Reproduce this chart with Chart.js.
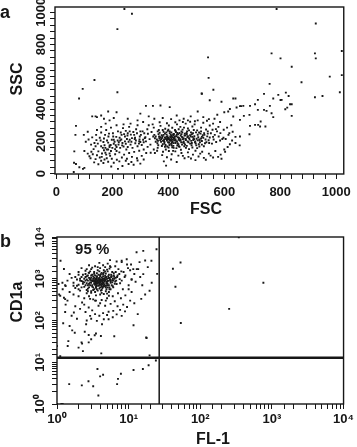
<!DOCTYPE html>
<html>
<head>
<meta charset="utf-8">
<script src="https://cdn.jsdelivr.net/npm/chart.js@4.4.1/dist/chart.umd.min.js"></script>
<style>
  body { margin: 0; background: #fff; }
  canvas { display: block; }
</style>
</head>
<body>
<canvas id="chartA" width="357" height="220"></canvas>
<canvas id="chartB" width="357" height="227"></canvas>
<script>
// ---- panel a : FSC / SSC ----
const fscTicks = [0, 200, 400, 600, 800, 1000];
const sscTicks = [0, 200, 400, 600, 800, 1000];

const coreA = [[402,212],[415,198],[388,225],[430,240],[410,185],[395,205],[420,221],[437,210],[380,232],[405,250],[425,190],[448,228],[462,215],[371,208],[390,178],[412,233],[440,252],[455,200],[398,265],[418,172],[433,188],[478,238],[365,245],[352,219],[386,196],[408,226],[421,207],[444,236],[467,262],[490,220],[505,241],[512,205],[498,187],[472,195],[459,248],[383,260],[361,188],[346,230],[375,215],[394,242],[427,258],[451,273],[481,256],[520,228],[533,212],[528,250],[503,268],[486,292],[470,280],[443,290],[414,284],[389,278],[366,270],[340,258],[333,214],[355,198],[377,171],[401,162],[429,158],[457,170],[483,176],[509,182],[536,195],[548,224],[541,262],[517,285],[494,305],[462,310],[431,305],[402,298],[372,296],[348,285],[327,247],[318,226],[336,180],[362,160],[391,150],[417,141],[445,148],[474,152],[503,158],[527,170],[556,186],[566,240],[558,272],[548,298],[525,315],[411,218],[406,203],[399,219],[416,211],[423,229],[392,214],[384,205],[438,221],[452,214],[446,195],[468,226],[476,212],[493,232],[501,216],[515,248],[482,203],[461,237],[435,244],[409,240],[397,232],[378,222],[367,230],[359,212],[374,198],[386,186],[403,191],[426,203],[441,205],[457,188],[489,209],[507,226],[523,238],[539,231],[544,207],[531,188],[513,194],[496,200],[478,186],[466,172],[449,180],[432,174],[412,176],[396,168],[380,182],[363,204],[350,240],[369,253],[388,249],[405,262],[424,270],[447,262],[465,252],[484,244],[499,256],[517,262],[535,274],[491,270],[474,268],[456,285],[437,275],[420,246],[413,195],[404,178],[419,160],[440,166],[463,160],[486,162],[511,168],[552,250],[562,212],[571,196],[580,230],[574,262],[586,251],[593,215],[598,272],[579,290],[560,310],[538,328],[505,330],[478,322],[452,320],[425,318],[395,312],[369,318],[344,305],[325,275],[308,262],[302,240],[297,212],[312,195],[326,166],[348,150],
  [401,221],[409,209],[414,226],[396,213],[422,216],[428,232],[417,243],[394,228],[385,212],[431,199],[443,214],[451,225],[463,208],[474,220],[486,228],[458,236],[447,244],[432,252],[411,255],[393,256],[376,238],[368,219],[381,203],[399,195],[418,189],[436,182],[453,192],[469,199],[495,194],[511,212],[525,222],[520,202],
  [404,214],[412,206],[398,222],[426,212],[434,226],[419,236],[407,230],[390,220],[383,240],[372,226],[444,206],[455,218],[466,244],[480,230],[492,214],[505,206],[517,218],[529,240],[541,248],[510,255],[488,250],[470,232],[450,256],[426,264],[400,272],[380,270],[362,262],[355,230],[364,176],[388,166],[414,164],[438,170],[460,180],[484,190],[500,175],[520,180],[546,190],[560,228],[570,276],[585,205]];

const lowA = [[352,128],[378,115],[395,102],[412,120],[436,112],[458,96],[470,132],[488,118],[508,106],[527,98],[545,124],[568,140],[587,118],[603,136],[590,92],[560,100],[534,86],[514,124],[497,142],[481,94],[447,128],[425,138],[402,140],[381,136],[360,142],[337,130],[392,50],[384,76],[410,88],[430,72],[452,110],[472,104],[497,84],[521,136],[551,112],[578,104],[600,150],[612,165],[620,182],[628,205],[640,228],[615,240],[630,260],[610,285],[625,300],[640,190],[655,175],[605,215]];

const leftA = [[245,230],[232,212],[258,198],[270,220],[223,195],[212,176],[240,168],[265,180],[284,205],[295,186],[278,240],[255,250],[233,240],[214,228],[198,210],[185,192],[172,176],[166,160],[180,150],[195,140],[210,152],[228,160],[250,150],[272,160],[290,170],[305,178],[320,200],[300,262],[285,275],[260,290],[238,282],[220,262],[202,250],[186,230],[170,218],[158,205],[148,186],[140,170],[133,152],[125,136],[150,138],[163,125],[178,118],[192,110],[210,120],[225,132],[242,118],[260,128],[278,135],[296,142],[312,150],[321,128],[305,110],[288,96],[270,104],[252,92],[234,100],[216,86],[198,92],[180,96],[162,104],[145,114],[130,120],[118,108],[140,90],[160,80],[175,130],[190,165],[205,185],[219,205],[236,190],[252,215],[266,242],[281,222],[298,230],[314,250],[330,300],[310,320],[290,300],[265,310],[240,305],[215,300],[195,285],[178,270],[160,255],[142,240],[128,225],[115,212],[105,198],[100,140],[112,124],[122,96],[135,70],[150,58],[168,66],[185,74],[205,68],[225,76],[248,80],[268,72],[290,82],[312,88],[300,62],[276,55],[258,60],[236,48],[220,30],[196,44],[172,88],[155,100],[145,270],[160,290],[176,310],[190,330],[205,345],[170,340],[145,350],[128,355],[112,260],[98,240],[70,296],[68,240],[64,138],[63,68],[70,60],[82,40],[62,10],[95,30],[100,36],[230,255],[248,265],[262,262],[275,258],[288,250],[203,230],[188,248],[174,240],[226,222],[242,245],[254,236],[268,198],[282,188],[300,196],[316,220],[208,198],[194,178],[181,205],[168,196],[155,222],[143,208],[136,190],[124,180],
  [200,160],[215,140],[190,175],[235,175],[255,165],[222,180],[245,200],[262,210],[280,215],[296,200],[310,210],[185,150],[170,145],[160,170],[205,210],[228,205],[248,185],[190,125],[175,160],[215,165]];

const upperA = [[320,420],[345,420],[372,422],[405,412],[290,330],[255,340],[215,380],[185,385],[140,355],[160,360],[430,360],[455,340],[480,355],[505,385],[525,350],[545,338],[565,340],[470,330],[440,330],[410,338],[380,345],[350,340],[330,355],[300,372],[495,325],[585,320],[520,495],[548,455],[590,445],[620,400],[640,465],[660,418],[600,380],[575,365]];

const tailA = [[720,457],[775,465],[805,457],[835,430],[841,430],[825,409],[818,399],[763,420],[751,389],[769,374],[775,350],[742,395],[720,395],[710,430],[692,420],[668,420],[656,418],[632,465],[644,410],[670,358],[690,364],[710,302],[656,333],[632,354],[614,385],[841,358],[747,292],[728,292],[692,296],[721,302],[730,323],[656,230],[618,251],[597,222],[690,244],[762,556],[820,502],[793,488],[742,494],[830,481],[801,456]];

const outlierA = [[270,990],[218,895],[94,525],[81,465],[136,580],[218,504],[542,720],[544,593],[561,520],[519,496],[769,745],[801,714],[841,662],[924,745],[927,714],[927,930],[876,566],[977,601],[1013,504],[924,473],[951,481],[1020,610],[1020,760],[787,1020],[243,1020]];

// ---- panel b : FL-1 / CD1a ----
const powLabels = ['10\u2070', '10\u00b9', '10\u00b2', '10\u00b3', '10\u2074'];
const gateFL1 = 26.7;
const gateCD1a = 12.8;
const pctText = '95 %';
const pctAt = [3.1, 4800];

const coreB = [[3.8,820],[4.2,760],[3.5,900],[4.6,1000],[3.1,700],[5.0,850],[2.9,950],[4.0,620],[3.6,1150],[4.8,680],[5.5,920],[3.3,560],[2.6,780],[4.4,1300],[3.9,1050],[3.0,1200],[5.2,1150],[6.0,1000],[2.4,640],[2.2,880],[4.1,520],[3.4,480],[5.8,700],[6.5,860],[4.7,1500],[3.7,1600],[2.8,1380],[2.5,1100],[3.2,1000],[4.3,940],[3.6,760],[4.9,780],[5.4,620],[2.7,580],[2.0,720],[1.9,960],[2.3,1250],[3.0,1700],[4.0,1800],[5.0,1650],[6.2,1350],[7.0,1200],[7.5,980],[6.8,750],[5.6,560],[4.5,430],[3.5,400],[2.6,450],[2.1,520],[1.8,600],[1.7,800],[1.6,1050],[2.0,1450],[2.6,1700],[3.4,2000],[4.4,2100],[5.6,1900],[7.2,1700],[8.5,1450],[9.0,1200],[8.0,900],[3.9,870],[4.1,900],[3.7,780],[4.3,820],[3.4,840],[4.6,880],[3.8,950],[4.0,720],[3.3,760],[4.8,960],[3.6,680],[4.5,700],[3.1,880],[5.1,760],[2.9,820],[4.2,1080],[3.5,1020],[4.7,1180],[3.8,1250],[4.4,640],[3.2,620],[5.3,1040],[2.7,700],[3.0,1060],[4.0,1150],[5.7,1250],[6.3,1120],[2.5,900],[3.6,560],[4.9,560],[5.9,820],[6.6,1050],[2.3,760],[3.3,1320],[4.5,1400],[2.1,1000],[1.9,680],[3.0,500],[4.2,460],[5.3,480],[6.1,620],[7.6,780],[8.8,1100],[7.9,1500],[9.8,1800],[6.5,2000],[5.1,2300],[3.9,2400],[2.8,2100],[2.2,1800],[1.5,1300],[1.4,900],[1.3,700],[1.2,560],[1.5,480],[1.7,420],[2.0,380],[2.4,340],[2.9,330],[3.5,300],[4.2,310],[5.0,340],[6.0,380],[7.1,450],[8.3,560],[10,700],[11,950],[12,1300],[10.5,1600],[13,1700],[9.5,2200],[8.0,2500],[6.8,2600],[5.5,2800]];

const denseB = [[3.5,820],[3.9,780],[4.1,860],[4.4,780],[3.7,900],[4.0,980],[4.3,1020],[3.2,920],[3.0,800],[3.4,720],[3.8,680],[4.2,700],[4.6,740],[4.9,840],[5.2,900],[5.0,1000],[4.7,1080],[4.4,1150],[4.0,1220],[3.6,1100],[3.3,1050],[2.9,1000],[2.7,900],[2.8,760],[3.1,650],[3.5,610],[3.9,580],[4.3,600],[4.8,620],[5.3,700],[5.6,800],[5.9,920],[5.7,1100],[5.3,1250],[4.8,1330],[4.2,1380],[3.6,1350],[3.1,1250],[2.6,1150],[2.4,1000],[2.3,850],[2.5,700],[2.8,620],[3.2,540],[3.7,520],[4.2,540],[4.8,500],[5.4,560],[6.0,660],[6.4,760],[6.7,900],[6.2,1200],[5.9,1450],[5.1,1500],[4.5,1600],[3.9,1500],[3.3,1450],[2.9,1500],[2.5,1300],[2.2,1100],[2.1,900],[2.2,620],[2.6,540],[3.0,460],[4.0,420],[5.0,440],[4.1,940],[3.8,1020],[4.5,920],[3.4,980],[4.7,960],[3.6,860],[4.3,880],[3.9,720],[4.6,660],[5.1,620],[3.3,840],[5.5,980],[6.3,1000],[2.7,1200],
  [4.0,800],[3.7,840],[4.3,740],[3.5,760],[4.5,820],[3.9,920],[4.2,950],[3.3,880],[3.0,920],[4.7,900],[5.1,880],[3.6,990],[4.9,1100],[4.4,1000],[3.2,1140],[2.8,1050],[5.4,1050],[5.8,1150],[4.1,1280],[3.4,1200],[2.6,960],[2.4,820],[2.9,700],[3.5,650],[4.2,650],[5.0,700],[5.6,880],[6.1,900],[6.9,1100],[7.4,1300],[6.6,1450],[5.4,1750],[4.7,1900],[3.7,1900],[2.5,1550],[2.0,1250],[1.8,1100],[1.7,680],[2.0,560],[2.7,500]];

const edgeB = [[1.12,2700],[1.25,1710],[1.19,805],[1.07,420],[1.32,670],[8.0,2690],[9.4,2930],[12.9,4300],[16,4650],[24.5,5100],[20.8,2700],[13.6,1700],[16,1290],[11.6,1700],[11,980],[5.5,2000],[3.1,1850],[2.77,1400],[14.2,2500],[17,2740],[25,1310],[17.6,39],[1.05,750],[1.11,390],[1.3,325],[10.8,2200],[18.5,1900],[14.5,1100],[12.5,850],[15.5,700],[10,560],[21,800]];

const lowerB = [[2.24,270],[2.77,205],[3.8,225],[4.7,225],[5.25,162],[6.1,170],[8.0,129],[8.9,165],[8.4,240],[13.4,142],[2.9,129],[2.55,81],[4.25,81],[4.5,107],[3.4,142],[1.72,155],[5.25,107],[3.6,98],[1.22,86],[1.5,74],[1.63,58],[1.77,51],[1.44,32],[1.41,24.5],[2.0,22.4],[2.3,18.5],[2.24,28],[2.77,30],[3.0,35.5],[3.36,44.5],[2.77,45],[2.44,54],[3.5,49],[4.1,42.6],[2.2,30],[4.15,16.3],[6.3,42],[11.7,77],[17.8,38],[19.6,14.6],[1.0,24.5],[1.11,14],[1.32,240],[2.1,190],[2.5,160],[3.1,175],[3.4,300],[4.0,260],[4.8,300],[5.6,250],[6.4,290],[7.0,220],[7.6,180],[9.5,210],[10.5,300],[12,260],[15,330],[17,420],[19.6,515],[3.9,130],[4.4,150],[5.0,135],[6.0,120],[6.8,140],[3.0,110],[2.6,100],[1.9,110],[1.6,130],[1.3,160],[1.8,220],[2.4,240],[3.2,320],[1.4,300],[1.25,350],[2.8,380],[5.3,390],[7.8,340],[9.0,400],[11,480]];

const belowB = [[1.48,3.0],[2.22,2.8],[2.75,3.5],[3.2,2.65],[3.67,6.9],[3.78,1.6],[4.0,4.6],[4.4,5.0],[6.9,3.0],[7.1,4.0],[7.8,5.3],[11.7,6.5],[15.8,6.9],[19.0,8.5],[1.0,1.0],[1.15,1.0],[1.2,1.0],[24,11]];

const rightB = [[345,9800],[53,2450],[41.5,1730],[45,645],[760,805],[253,190],[53.5,87]];

const FONT = '"Liberation Sans", Arial, Helvetica, sans-serif';
const INK = '#161616';

// frame, gate lines, axis titles, panel letter
const framePlugin = {
  id: 'frame',
  afterDatasetsDraw(chart, args, o) {
    const { ctx, chartArea: a, scales } = chart;
    ctx.save();
    ctx.strokeStyle = INK;
    ctx.lineWidth = 1.4;
    ctx.strokeRect(a.left, a.top, a.right - a.left, a.bottom - a.top);
    if (o.gateX) {
      const gx = scales.x.getPixelForValue(o.gateX);
      ctx.lineWidth = 1.5;
      ctx.beginPath(); ctx.moveTo(gx, a.top); ctx.lineTo(gx, a.bottom); ctx.stroke();
    }
    if (o.gateY) {
      const gy = scales.y.getPixelForValue(o.gateY);
      ctx.lineWidth = 2.6;
      ctx.beginPath(); ctx.moveTo(a.left, gy); ctx.lineTo(a.right, gy); ctx.stroke();
    }
    ctx.fillStyle = INK;
    if (o.note) {
      ctx.font = 'bold 15px ' + FONT;
      ctx.textAlign = 'center';
      ctx.textBaseline = 'middle';
      ctx.fillText(o.note, scales.x.getPixelForValue(o.noteAt[0]), scales.y.getPixelForValue(o.noteAt[1]));
    }
    ctx.font = 'bold 16px ' + FONT;
    ctx.textAlign = 'center';
    ctx.textBaseline = 'middle';
    ctx.fillText(o.xTitle, o.xTitlePos[0], o.xTitlePos[1]);
    ctx.save();
    ctx.translate(o.yTitlePos[0], o.yTitlePos[1]);
    ctx.rotate(-Math.PI / 2);
    ctx.fillText(o.yTitle, 0, 0);
    ctx.restore();
    ctx.font = 'bold 18px ' + FONT;
    ctx.textAlign = 'left';
    ctx.textBaseline = 'alphabetic';
    ctx.fillText(o.letter, o.letterPos[0], o.letterPos[1]);
    ctx.restore();
  }
};

function dots(data) {
  return {
    data: data,
    pointStyle: 'rect',
    pointRadius: 1.35,
    pointBorderWidth: 0,
    backgroundColor: '#181818',
    borderColor: '#181818'
  };
}

function axisStyle(extra) {
  return Object.assign({
    grid: { display: true, drawOnChartArea: false, drawTicks: true, tickLength: 5, color: INK, tickColor: INK },
    border: { display: false }
  }, extra);
}

const tickFont = { family: FONT, size: 13, weight: 'bold' };

new Chart(document.getElementById('chartA'), {
  type: 'scatter',
  data: { datasets: [dots([...coreA, ...lowA, ...leftA, ...upperA, ...tailA, ...outlierA])] },
  options: {
    responsive: false,
    animation: false,
    events: [],
    layout: { padding: { top: 7, right: 13, left: 0, bottom: 0 } },
    plugins: {
      legend: { display: false },
      tooltip: { enabled: false },
      frame: { xTitle: 'FSC', xTitlePos: [206, 210], yTitle: 'SSC', yTitlePos: [18, 79], letter: 'a', letterPos: [0, 18] }
    },
    scales: {
      x: axisStyle({
        type: 'linear', min: -5, max: 1027,
        afterFit: s => { s.height = 46; },
        ticks: { stepSize: 40, includeBounds: false, autoSkip: false, maxRotation: 0, padding: 6, color: INK, font: tickFont,
          callback: v => fscTicks.includes(v) ? String(v) : '' }
      }),
      y: axisStyle({
        type: 'linear', min: -2, max: 1032,
        afterFit: s => { s.width = 55; },
        ticks: { stepSize: 40, includeBounds: false, autoSkip: false, minRotation: 90, maxRotation: 90, crossAlign: 'center', padding: -6, color: INK, font: tickFont,
          callback: v => sscTicks.includes(v) ? String(v) : '' }
      })
    }
  },
  plugins: [framePlugin]
});

function powLabel(v) {
  const e = Math.round(Math.log10(v));
  return Math.abs(Math.log10(v) - e) < 1e-9 ? powLabels[e] : '';
}

new Chart(document.getElementById('chartB'), {
  type: 'scatter',
  data: { datasets: [dots([...coreB, ...denseB, ...edgeB, ...lowerB, ...belowB, ...rightB])] },
  options: {
    responsive: false,
    animation: false,
    events: [],
    layout: { padding: { top: 17, right: 9, left: 0, bottom: 0 } },
    plugins: {
      legend: { display: false },
      tooltip: { enabled: false },
      frame: { gateX: gateFL1, gateY: gateCD1a, note: pctText, noteAt: pctAt,
        xTitle: 'FL-1', xTitlePos: [213, 220], yTitle: 'CD1a', yTitlePos: [18, 82], letter: 'b', letterPos: [0, 27] }
    },
    scales: {
      x: axisStyle({
        type: 'logarithmic', min: 1, max: 10000,
        afterFit: s => { s.height = 43; },
        ticks: { autoSkip: false, maxRotation: 0, padding: 3, color: INK, font: tickFont, callback: powLabel }
      }),
      y: axisStyle({
        type: 'logarithmic', min: 1, max: 10000,
        afterFit: s => { s.width = 57; },
        ticks: { autoSkip: false, minRotation: 90, maxRotation: 90, crossAlign: 'center', padding: 1, color: INK, font: tickFont, callback: powLabel }
      })
    }
  },
  plugins: [framePlugin]
});
</script>
</body>
</html>
